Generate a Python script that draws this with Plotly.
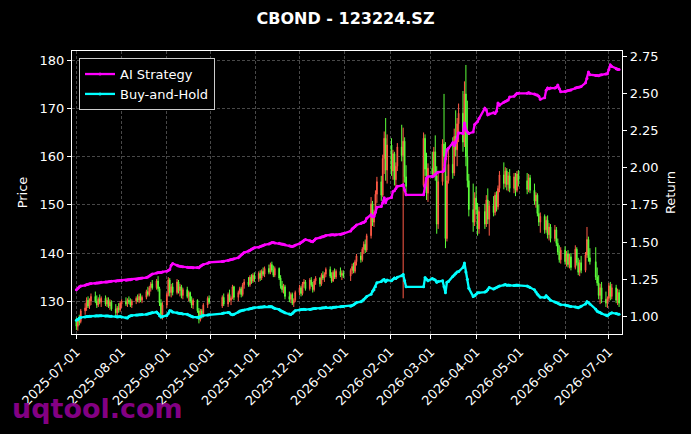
import pandas as pd
import plotly.graph_objects as go

# ---------------- data ----------------
START, END = "2025-07-01", "2026-07-08"
HOLIDAYS = ["2025-10-01", "2025-10-02", "2025-10-03", "2025-10-06", "2025-10-07", "2025-10-08",
            "2026-01-01", "2026-01-02", "2026-02-13", "2026-02-16", "2026-02-17", "2026-02-18",
            "2026-02-19", "2026-02-20", "2026-02-23", "2026-04-06", "2026-05-01", "2026-05-04",
            "2026-05-05", "2026-06-19"]

OPEN = [
    126.0,124.8,126.0,125.8,128.0,128.6,130.2,129.0,130.0,131.0,130.0,129.2,130.4,129.8,130.6,129.4,130.2,129.0,129.8,128.4,127.6,128.6,128.2,
    129.4,130.0,129.4,130.2,129.8,129.2,130.0,130.6,130.2,131.0,130.2,130.8,132.0,131.4,132.8,133.6,132.8,134.2,132.6,129.6,127.2,
    129.2,131.4,134.4,131.8,133.0,131.8,134.0,132.2,133.0,131.2,132.4,131.0,131.8,130.0,129.2,130.2,128.0,126.2,128.0,127.0,129.2,130.6,
    129.0,130.8,129.4,131.4,130.2,130.6,133.0,130.8,131.8,132.6,131.4,133.4,134.0,133.4,135.0,134.2,135.4,
    134.6,135.8,134.8,136.2,135.6,136.8,136.0,137.6,136.4,135.4,136.8,134.8,133.2,132.4,133.0,131.0,130.4,131.4,129.6,130.2,
    131.8,132.8,131.6,133.6,134.0,132.6,134.4,133.4,132.4,134.2,134.8,133.6,135.4,134.8,135.6,136.6,135.2,134.2,136.0,135.0,136.2,135.4,135.8,
    135.2,136.4,137.2,136.2,138.2,139.4,138.6,140.8,141.8,140.6,143.6,150.2,146.4,148.4,152.2,154.8,152.0,159.6,163.8,157.2,
    162.4,157.0,160.6,155.2,158.0,162.0,160.2,163.2,155.8,154.0,163.8,157.4,152.4,
    157.6,156.4,161.0,156.0,146.0,154.8,162.6,160.0,143.0,155.0,158.4,156.6,164.2,161.4,166.8,169.0,163.0,173.0,160.0,155.0,149.0,146.4,
    151.4,149.0,145.0,148.6,146.0,151.0,147.0,149.8,148.4,152.0,149.6,153.4,156.2,154.4,157.0,154.2,156.0,153.4,155.8,153.0,156.4,
    155.0,153.2,155.6,153.0,150.8,152.0,148.2,146.4,147.6,144.8,146.8,143.8,145.4,143.0,144.8,142.0,140.2,138.6,
    140.6,138.2,139.8,137.6,139.2,137.0,140.8,138.0,136.0,138.0,136.4,139.6,142.8,139.0,138.2,135.0,133.8,131.2,132.8,130.4,129.6,
    130.6,133.2,131.0,132.8,130.2,131.8,
]
HIGH = [
    126.6,126.4,127.2,128.4,129.6,130.8,131.0,130.6,131.6,132.0,131.2,130.8,131.4,131.0,131.2,130.8,130.8,130.4,130.2,129.4,129.0,129.6,130.0,
    130.4,130.8,130.6,131.0,130.6,130.4,131.0,131.4,131.6,131.6,131.2,132.4,133.0,133.2,134.0,134.4,134.6,135.2,133.0,130.4,129.8,
    131.8,135.0,134.8,133.6,133.8,134.6,134.4,133.6,133.4,132.8,133.0,132.2,132.0,131.0,130.6,130.4,128.6,128.4,128.4,129.6,131.0,131.2,
    131.2,131.6,131.8,132.4,131.0,133.4,133.2,132.2,133.0,133.0,133.8,134.6,135.0,135.4,135.6,135.8,136.0,
    136.2,136.4,136.6,137.0,137.2,137.6,138.0,138.2,137.4,137.2,137.0,135.4,134.2,133.6,133.4,132.0,131.8,131.8,130.6,132.2,
    133.4,133.2,134.0,134.6,134.4,134.8,135.0,134.0,134.6,135.2,135.0,135.8,136.2,136.0,137.0,137.2,136.0,136.4,136.8,136.6,137.0,136.4,136.4,
    136.8,137.8,138.0,138.6,139.8,140.2,141.2,142.4,142.8,144.0,151.6,150.8,149.0,153.0,155.8,156.0,160.4,165.2,168.0,164.6,
    163.8,161.4,161.0,158.8,162.8,166.6,166.0,164.0,158.2,165.0,164.6,160.8,158.6,
    161.0,162.0,164.4,158.0,156.4,163.6,173.0,163.0,156.0,161.6,164.0,165.8,169.6,168.0,171.0,173.6,175.6,179.0,171.6,156.4,154.4,152.6,
    153.8,150.4,149.6,150.2,152.0,153.4,150.8,151.8,152.6,152.8,154.0,157.0,158.8,157.8,157.6,156.8,157.4,156.6,156.6,157.0,157.2,
    156.6,156.4,156.2,154.4,152.6,152.4,150.0,148.4,148.0,147.6,147.8,146.2,146.0,145.8,145.4,143.0,141.6,141.2,
    141.4,140.4,140.6,139.8,140.0,141.6,141.2,139.0,138.6,139.4,140.2,145.4,143.4,141.0,141.2,137.0,135.4,133.6,134.0,132.0,131.0,
    133.8,134.0,133.6,133.4,132.6,132.4,
]
LOW = [
    124.0,123.9,125.0,125.4,127.2,128.0,128.6,128.4,129.2,129.6,128.6,128.8,129.4,128.8,129.0,128.8,128.6,128.2,128.0,127.0,126.8,127.6,127.8,
    128.6,129.0,128.8,129.4,128.8,128.6,129.4,129.8,129.6,129.8,129.6,130.4,131.0,131.0,132.0,132.4,132.4,132.0,129.0,126.4,126.2,
    128.6,131.0,131.0,130.8,131.2,131.4,131.6,131.0,130.6,130.4,130.6,130.0,129.6,128.6,128.4,127.6,125.4,125.8,126.4,126.6,128.6,129.4,
    128.6,129.0,128.8,129.8,129.2,130.4,130.2,130.0,131.4,130.8,131.0,132.6,133.0,133.0,133.6,133.8,134.0,
    134.0,134.2,134.4,135.2,135.0,135.6,135.6,136.0,135.0,135.0,134.4,132.6,131.8,131.6,130.4,129.8,129.6,129.2,128.8,129.8,
    131.2,131.0,131.2,132.8,132.2,132.2,133.0,131.8,132.0,133.4,133.0,133.2,134.4,134.0,135.0,134.8,133.8,134.0,134.6,134.6,135.0,134.4,134.8,
    134.2,135.6,135.8,135.8,137.4,138.0,138.2,139.8,140.0,140.2,143.0,145.6,145.4,147.8,150.4,150.8,151.6,156.4,155.0,154.4,
    156.0,155.2,154.0,153.4,157.0,159.0,130.6,154.6,152.6,153.6,156.0,151.0,150.6,
    155.6,155.8,155.0,144.0,145.0,154.0,158.0,141.0,142.4,154.4,155.4,156.0,160.0,158.0,163.0,161.0,162.0,158.0,153.6,147.6,144.4,145.6,
    148.0,143.6,144.0,145.0,145.4,146.0,143.6,147.6,147.8,148.6,149.0,152.6,153.2,153.6,153.0,152.8,152.6,152.4,151.8,152.6,153.8,
    152.2,152.6,152.4,150.0,149.4,147.6,145.6,144.2,144.0,144.2,143.0,142.6,142.2,142.4,141.4,139.6,138.0,137.8,
    137.6,137.2,137.0,136.8,136.4,136.6,137.4,135.4,135.2,135.8,136.0,139.0,138.2,137.6,134.4,133.2,130.4,129.4,129.6,128.8,128.6,
    130.0,130.2,130.4,129.6,129.2,128.8,
]
CLOSE = [
    124.8,126.0,125.6,128.0,128.6,130.2,129.0,130.0,131.0,130.0,129.2,130.4,129.8,130.6,129.4,130.2,129.0,129.8,128.4,127.6,128.6,128.2,129.6,
    130.0,129.4,130.2,129.8,129.2,130.0,130.6,130.2,131.0,130.2,130.8,132.0,131.4,132.8,133.6,132.8,134.2,132.6,129.6,127.2,129.2,
    131.4,134.4,131.8,133.0,131.8,134.0,132.2,133.0,131.2,132.4,131.0,131.8,130.0,129.2,130.2,128.0,126.2,128.0,127.0,129.2,130.6,129.8,
    130.8,129.4,131.4,130.2,130.6,133.0,130.8,131.8,132.6,131.4,133.4,134.0,133.4,135.0,134.2,135.4,134.6,
    135.8,134.8,136.2,135.6,136.8,136.0,137.6,136.4,135.4,136.8,134.8,133.2,132.4,133.0,131.0,130.4,131.4,129.6,130.2,131.8,
    132.8,131.6,133.6,134.0,132.6,134.4,133.4,132.4,134.2,134.8,133.6,135.4,134.8,135.6,136.6,135.2,134.2,136.0,135.0,136.2,135.4,135.8,135.2,
    136.4,137.2,136.2,138.2,139.4,138.6,140.8,141.8,140.6,143.6,150.2,146.4,148.4,152.2,154.8,152.0,159.6,163.8,157.2,162.4,
    157.0,160.6,155.2,158.0,162.0,160.2,163.2,155.8,153.8,163.8,157.4,152.4,157.6,
    156.4,161.0,156.0,146.0,154.8,162.6,160.0,143.0,155.0,158.4,156.6,164.2,161.4,166.8,169.0,163.0,173.0,160.0,155.0,149.0,146.4,151.4,
    149.0,145.0,148.6,146.0,151.0,147.0,149.8,148.4,152.0,149.6,153.4,156.2,154.4,157.0,154.2,156.0,153.4,155.8,153.0,156.4,155.0,
    153.2,155.6,153.0,150.8,152.0,148.2,146.4,147.6,144.8,146.8,143.8,145.4,143.0,144.8,142.0,140.2,138.6,140.6,
    138.2,139.8,137.6,139.2,137.0,140.8,138.0,136.0,138.0,136.4,139.6,142.8,139.0,138.2,135.0,133.8,131.2,132.8,130.4,129.6,130.6,
    133.2,131.0,132.8,130.2,131.8,129.6,
]
AI_STRATEGY = [
    1.180,1.190,1.200,1.205,1.210,1.215,1.218,1.220,1.222,1.224,1.226,1.226,1.228,1.230,1.232,1.233,1.234,1.236,1.237,1.238,1.240,1.241,1.242,
    1.243,1.244,1.245,1.247,1.248,1.250,1.251,1.252,1.255,1.258,1.260,1.262,1.266,1.272,1.280,1.286,1.292,1.296,1.296,1.296,1.300,
    1.305,1.310,1.316,1.345,1.356,1.345,1.340,1.338,1.336,1.334,1.332,1.330,1.330,1.329,1.328,1.329,1.328,1.338,1.345,1.350,1.358,1.364,
    1.370,1.372,1.376,1.380,1.383,1.385,1.388,1.396,1.405,1.416,1.422,1.430,1.440,1.446,1.452,1.458,1.463,
    1.466,1.470,1.474,1.478,1.482,1.488,1.493,1.497,1.497,1.495,1.492,1.490,1.488,1.486,1.483,1.476,1.472,1.470,1.474,1.480,
    1.490,1.497,1.505,1.512,1.517,1.510,1.504,1.503,1.512,1.522,1.530,1.534,1.537,1.540,1.545,1.548,1.550,1.550,1.548,1.550,1.552,1.555,1.558,
    1.575,1.590,1.597,1.605,1.615,1.625,1.630,1.632,1.640,1.660,1.684,1.670,1.672,1.700,1.735,1.740,1.765,1.798,1.765,1.790,
    1.800,1.840,1.845,1.860,1.875,1.880,1.885,1.850,1.818,1.818,1.880,1.930,1.940,
    1.940,1.945,1.955,1.966,1.970,1.973,1.980,2.060,2.120,2.130,2.167,2.150,2.170,2.200,2.234,2.230,2.300,2.254,2.240,2.230,2.240,2.290,
    2.300,2.310,2.330,2.400,2.388,2.355,2.360,2.370,2.365,2.380,2.435,2.420,2.440,2.445,2.450,2.455,2.475,2.480,2.490,2.500,2.500,
    2.500,2.505,2.500,2.495,2.490,2.488,2.480,2.460,2.470,2.520,2.535,2.530,2.535,2.535,2.540,2.555,2.530,2.510,
    2.512,2.515,2.518,2.520,2.522,2.535,2.538,2.540,2.542,2.545,2.570,2.600,2.643,2.625,2.620,2.620,2.618,2.622,2.625,2.630,2.632,
    2.660,2.690,2.680,2.665,2.660,2.660,
]
BUY_AND_HOLD = [
    0.975,0.980,0.990,0.994,0.998,1.000,1.000,1.002,1.003,1.004,1.005,1.004,1.005,1.006,1.004,1.005,1.004,1.003,1.002,1.000,0.998,0.999,1.000,
    0.998,0.992,0.990,1.000,1.005,1.008,1.010,1.010,1.012,1.012,1.014,1.015,1.018,1.020,1.024,1.028,1.030,1.020,1.005,0.998,1.000,
    1.008,1.020,1.040,1.038,1.030,1.025,1.022,1.020,1.020,1.018,1.015,1.010,1.005,1.000,0.998,0.995,0.994,1.000,1.004,1.008,1.010,1.012,
    1.020,1.024,1.028,1.025,1.015,1.012,1.015,1.030,1.038,1.040,1.042,1.045,1.050,1.052,1.055,1.058,1.060,
    1.062,1.064,1.065,1.066,1.067,1.068,1.068,1.066,1.060,1.055,1.048,1.040,1.035,1.030,1.025,1.018,1.014,1.020,1.030,1.040,
    1.045,1.047,1.048,1.050,1.047,1.048,1.050,1.052,1.054,1.055,1.056,1.058,1.060,1.060,1.062,1.060,1.058,1.062,1.063,1.064,1.066,1.067,1.068,
    1.070,1.075,1.080,1.086,1.094,1.100,1.105,1.115,1.125,1.135,1.150,1.170,1.180,1.200,1.228,1.235,1.245,1.249,1.235,1.245,
    1.240,1.250,1.260,1.255,1.265,1.275,1.282,1.240,1.200,1.200,1.262,1.250,1.240,
    1.255,1.250,1.245,1.230,1.235,1.240,1.200,1.160,1.230,1.235,1.270,1.280,1.290,1.300,1.302,1.330,1.360,1.300,1.250,1.190,1.135,1.140,
    1.150,1.160,1.160,1.165,1.170,1.180,1.195,1.185,1.190,1.195,1.200,1.205,1.212,1.215,1.210,1.212,1.210,1.208,1.210,1.212,1.210,
    1.205,1.200,1.195,1.180,1.165,1.150,1.140,1.130,1.128,1.140,1.130,1.120,1.110,1.098,1.094,1.090,1.085,1.080,
    1.078,1.075,1.072,1.070,1.068,1.065,1.062,1.060,1.065,1.070,1.085,1.100,1.094,1.085,1.050,1.035,1.030,1.028,1.020,1.010,1.005,
    1.014,1.020,1.025,1.020,1.018,1.015,
]
MONTH_TICKS = ["2025-07-01", "2025-08-01", "2025-09-01", "2025-10-01", "2025-11-01", "2025-12-01",
               "2026-01-01", "2026-02-01", "2026-03-01", "2026-04-01", "2026-05-01", "2026-06-01",
               "2026-07-01"]
PRICE_TICKS = [130, 140, 150, 160, 170, 180]
RETURN_TICKS = [1.00, 1.25, 1.50, 1.75, 2.00, 2.25, 2.50, 2.75]

# ---------------- build ----------------
days = pd.bdate_range(START, END)
days = days[~days.isin(pd.to_datetime(HOLIDAYS))]
lens = {k: len(v) for k, v in dict(O=OPEN, H=HIGH, L=LOW, C=CLOSE, A=AI_STRATEGY, B=BUY_AND_HOLD).items()}
assert all(n == len(days) for n in lens.values()), (len(days), lens)

WHITE = "#ffffff"
FONT = "DejaVu Sans"

fig = go.Figure()
fig.add_trace(go.Candlestick(
    x=days, open=OPEN, high=HIGH, low=LOW, close=CLOSE,
    increasing=dict(line=dict(color="#ff5a46", width=1), fillcolor="#ff5a46"),
    decreasing=dict(line=dict(color="#5cff3a", width=1), fillcolor="#5cff3a"),
    whiskerwidth=0, showlegend=False, name="CBOND", yaxis="y",
))
fig.add_trace(go.Scatter(
    x=days, y=AI_STRATEGY, mode="lines+markers", name="AI Strategy",
    line=dict(color="#ff00ff", width=2.3), marker=dict(color="#ff00ff", size=3),
    yaxis="y2",
))
fig.add_trace(go.Scatter(
    x=days, y=BUY_AND_HOLD, mode="lines+markers", name="Buy-and-Hold",
    line=dict(color="#00ffff", width=2.3), marker=dict(color="#00ffff", size=3),
    yaxis="y2",
))

grid = dict(showgrid=True, gridcolor="#484848", gridwidth=0.6, griddash="3px,2px")
fig.update_layout(
    width=691, height=434,
    margin=dict(l=72, r=69, t=51, b=100),
    paper_bgcolor="#000000", plot_bgcolor="#000000",
    font=dict(family=FONT, color=WHITE, size=13),
    title=dict(text="<b>CBOND - 123224.SZ</b>", x=0.5, xanchor="center",
               y=1 - 18 / 434, yanchor="middle", font=dict(size=16, color=WHITE, family=FONT)),
    xaxis=dict(
        type="date", range=["2025-06-28", "2026-07-10"],
        tickvals=MONTH_TICKS, ticktext=MONTH_TICKS, tickangle=-45,
        ticks="outside", ticklen=4, tickcolor=WHITE,
        showline=True, linecolor=WHITE, linewidth=1.2, mirror=True,
        rangeslider=dict(visible=False), zeroline=False,
        tickfont=dict(size=13, color=WHITE), **grid,
    ),
    yaxis=dict(
        range=[123.2, 181.9], tickvals=PRICE_TICKS,
        ticks="outside", ticklen=4, tickcolor=WHITE,
        showline=True, linecolor=WHITE, linewidth=1.2, zeroline=False,
        title=dict(text="Price", font=dict(size=13, color=WHITE), standoff=8),
        tickfont=dict(size=13, color=WHITE), **grid,
    ),
    yaxis2=dict(
        overlaying="y", side="right", range=[0.883, 2.784],
        tickvals=RETURN_TICKS, tickformat=".2f",
        ticks="outside", ticklen=4, tickcolor=WHITE,
        showline=True, linecolor=WHITE, linewidth=1.2, showgrid=False, zeroline=False,
        title=dict(text="Return", font=dict(size=13, color=WHITE), standoff=8),
        tickfont=dict(size=13, color=WHITE),
    ),
    legend=dict(
        x=0.0127, y=0.975, xanchor="left", yanchor="top",
        bgcolor="#000000", bordercolor="#cccccc", borderwidth=1,
        font=dict(size=13, color=WHITE, family=FONT), itemwidth=30,
        tracegroupgap=2,
    ),
    annotations=[dict(
        text="<b>uqtool.com</b>", xref="paper", yref="paper",
        x=(10 - 72) / 550, y=(334 - 408) / 283, xanchor="left", yanchor="middle",
        showarrow=False, font=dict(size=27, color="rgba(140,0,140,0.95)", family=FONT),
    )],
)

fig.write_html("out.html")
